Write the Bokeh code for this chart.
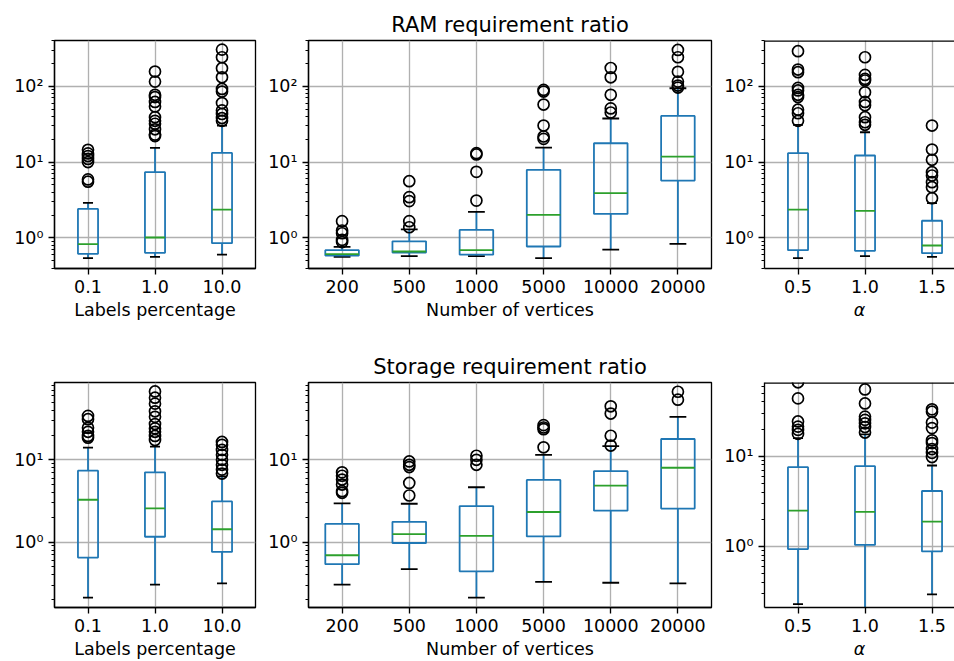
from bokeh.plotting import figure
from bokeh.layouts import column, row
from bokeh.models import Range1d, FixedTicker, CustomJSTickFormatter, Span
from bokeh.embed import file_html
from bokeh.resources import INLINE

FONT = "DejaVu Sans"

# ------------------------------------------------------------------ data
LABEL_PCT = ["0.1", "1.0", "10.0"]
VERTICES = ["200", "500", "1000", "5000", "10000", "20000"]
ALPHAS = ["0.5", "1.0", "1.5"]

# RAM requirement ratio -- by labels percentage
RAM_LP_LOW = [0.54, 0.56, 0.60]
RAM_LP_Q1 = [0.615, 0.634, 0.85]
RAM_LP_MED = [0.825, 1.01, 2.36]
RAM_LP_Q3 = [2.41, 7.35, 13.2]
RAM_LP_HIGH = [2.89, 15.4, 30.3]
RAM_LP_FLIERS = [[14.5, 13.0, 12.0, 11.0, 10.0, 5.9, 5.5],
                 [156, 115, 77, 72, 62, 54, 39, 35, 32, 27, 23, 22],
                 [304, 241, 173, 131, 92, 85, 60, 48, 43, 38, 35]]

# RAM requirement ratio -- by number of vertices
RAM_NV_LOW = [0.56, 0.573, 0.573, 0.54, 0.70, 0.83]
RAM_NV_Q1 = [0.585, 0.64, 0.60, 0.769, 2.07, 5.7]
RAM_NV_MED = [0.609, 0.66, 0.688, 2.01, 3.88, 11.8]
RAM_NV_Q3 = [0.688, 0.90, 1.27, 7.88, 17.7, 40.6]
RAM_NV_HIGH = [0.76, 1.29, 2.2, 15.5, 37.5, 94]
RAM_NV_FLIERS = [[1.66, 1.25, 1.15, 0.94, 0.88],
                 [5.59, 3.44, 3.05, 1.66, 1.38],
                 [13.1, 12.6, 7.42, 3.1],
                 [89.5, 85, 57.3, 30.3, 21.7, 20.2],
                 [174, 131, 77, 51, 45],
                 [301, 241, 155, 115, 102, 96]]

# RAM requirement ratio -- by alpha
RAM_AL_LOW = [0.54, 0.573, 0.56]
RAM_AL_Q1 = [0.688, 0.674, 0.628]
RAM_AL_MED = [2.36, 2.27, 0.792]
RAM_AL_Q3 = [13.1, 12.2, 1.68]
RAM_AL_HIGH = [31, 24.7, 2.87]
RAM_AL_FLIERS = [[290, 166, 153, 95, 88, 77, 72, 49, 44, 35],
                 [241, 141, 125, 119, 83, 62, 56, 39, 33.5, 31],
                 [30.3, 14.6, 10.7, 7.35, 6.64, 5.42, 4.66, 3.33]]

# Storage requirement ratio -- by labels percentage
STO_LP_LOW = [0.211, 0.303, 0.315]
STO_LP_Q1 = [0.648, 1.16, 0.758]
STO_LP_MED = [3.27, 2.57, 1.43]
STO_LP_Q3 = [7.37, 7.04, 3.12]
STO_LP_HIGH = [14.1, 14.5, 6.3]
STO_LP_FLIERS = [[34.2, 31.2, 24.5, 21.9, 19.5, 18.6],
                 [67.8, 56.9, 48.2, 38.9, 33.3, 27.2, 24.1, 21.9, 19.5, 17.4],
                 [16.5, 15.2, 13.2, 11.5, 10.0, 8.7, 7.6, 6.8]]

# Storage requirement ratio -- by number of vertices
STO_NV_LOW = [0.303, 0.469, 0.211, 0.327, 0.32, 0.315]
STO_NV_Q1 = [0.538, 0.973, 0.44, 1.17, 2.41, 2.55]
STO_NV_MED = [0.691, 1.25, 1.19, 2.32, 4.86, 8.01]
STO_NV_Q3 = [1.66, 1.76, 2.74, 5.69, 7.3, 17.9]
STO_NV_HIGH = [2.95, 2.92, 4.64, 11.5, 14.7, 33.3]
STO_NV_FLIERS = [[7.04, 6.4, 5.75, 5.0, 4.15, 3.97],
                 [9.55, 8.7, 8.16, 5.23, 3.68],
                 [11.2, 10.0, 8.7],
                 [26.4, 24.7, 23.6, 14.2],
                 [44.7, 36.5, 19.6, 14.9],
                 [67.2, 53.8]]

# Storage requirement ratio -- by alpha
STO_AL_LOW = [0.229, 0.19, 0.294]
STO_AL_Q1 = [0.935, 1.04, 0.881]
STO_AL_MED = [2.49, 2.42, 1.88]
STO_AL_Q3 = [7.57, 7.77, 4.12]
STO_AL_HIGH = [15.9, 17.5, 7.9]
STO_AL_FLIERS = [[66, 43.8, 24.3, 21.3, 19.6, 17.7],
                 [55, 38.5, 27.5, 25.3, 23.2, 21.1, 18.3],
                 [33.1, 31.2, 23.6, 20.5, 15, 14, 12, 10.9, 9.8]]

# ------------------------------------------------------------------ style
BOX_C = "#1f77b4"
MED_C = "#2ca02c"
GRID_C = "#b0b0b0"
LW = 1.8
SPINE_W = 1.33
TICK_FS = "17.5px"

SUP = {-1: "\u207b\u00b9", 0: "\u2070", 1: "\u00b9", 2: "\u00b2", 3: "\u00b3"}


def panel(cats, low, q1, med, q3, high, fliers, ylo, yhi, width, height,
          mb, x_end=None, xlabel="", title=None, clip_right=False,
          italic_label=False):
    n = len(cats)
    xs = list(range(1, n + 1))
    bw = min(0.15 * max(n - 1, 1.0), 0.5)
    if x_end is None:
        x_end = n + 0.5
    kw = dict(width=width, height=height,
              x_range=Range1d(0.5, x_end), y_range=Range1d(ylo, yhi),
              y_axis_type="log", output_backend="svg", toolbar_location=None,
              min_border_left=mb[0], min_border_right=mb[1],
              min_border_top=mb[2], min_border_bottom=mb[3],
              background_fill_color="white", border_fill_color="white")
    if title:
        kw["title"] = title
    p = figure(**kw)
    if title:
        p.title.text_font = FONT
        p.title.text_font_size = "21px"
        p.title.text_font_style = "normal"
        p.title.text_color = "black"
        p.title.align = "center"
        p.title.standoff = 8

    # ticks
    xt = FixedTicker(ticks=xs)
    majors = [10.0 ** e for e in range(-2, 4) if ylo <= 10.0 ** e <= yhi]
    minors = [m * 10.0 ** e for e in range(-2, 4) for m in range(2, 10)
              if ylo <= m * 10.0 ** e <= yhi]
    yt = FixedTicker(ticks=majors, minor_ticks=minors)
    p.xaxis.ticker = xt
    p.yaxis.ticker = yt
    p.xgrid.ticker = xt
    p.ygrid.ticker = yt
    p.xaxis.formatter = CustomJSTickFormatter(
        args=dict(labels=cats),
        code="return labels[Math.round(tick) - 1] || '';")
    p.yaxis.formatter = CustomJSTickFormatter(
        args=dict(sup={str(k): v for k, v in SUP.items()}),
        code="const e = Math.round(Math.log10(tick)); return '10' + sup[String(e)];")

    for ax in (p.xaxis[0], p.yaxis[0]):
        ax.axis_line_color = "black"
        ax.axis_line_width = SPINE_W
        ax.major_tick_line_color = "black"
        ax.major_tick_line_width = SPINE_W
        ax.major_tick_out = 6
        ax.major_tick_in = 0
        ax.minor_tick_line_color = "black"
        ax.minor_tick_line_width = 1.0
        ax.minor_tick_out = 3
        ax.minor_tick_in = 0
        ax.major_label_text_font = FONT
        ax.major_label_text_font_size = TICK_FS
        ax.major_label_text_color = "black"
        ax.major_label_standoff = 5
    p.xaxis.minor_tick_line_color = None
    p.xaxis.axis_label = xlabel
    p.xaxis.axis_label_text_font = FONT
    p.xaxis.axis_label_text_font_size = TICK_FS
    p.xaxis.axis_label_text_font_style = "italic" if italic_label else "normal"
    p.xaxis.axis_label_text_color = "black"
    p.xaxis.axis_label_standoff = 4

    for g in (p.xgrid[0], p.ygrid[0]):
        g.grid_line_color = GRID_C
        g.grid_line_width = 1.33

    if clip_right:
        p.outline_line_color = None
        p.add_layout(Span(location=yhi, dimension="width", line_color="black",
                          line_width=SPINE_W * 2))
    else:
        p.outline_line_color = "black"
        p.outline_line_width = SPINE_W
        p.outline_line_alpha = 1.0

    # whiskers
    p.segment(x0=xs, y0=q3, x1=xs, y1=high, line_color=BOX_C, line_width=LW)
    p.segment(x0=xs, y0=q1, x1=xs, y1=low, line_color=BOX_C, line_width=LW)
    # caps
    cw = bw / 4.0
    p.segment(x0=[x - cw for x in xs], y0=high, x1=[x + cw for x in xs], y1=high,
              line_color="black", line_width=LW)
    p.segment(x0=[x - cw for x in xs], y0=low, x1=[x + cw for x in xs], y1=low,
              line_color="black", line_width=LW)
    # boxes
    p.vbar(x=xs, width=bw, bottom=q1, top=q3, fill_color=None,
           line_color=BOX_C, line_width=LW)
    # medians
    p.segment(x0=[x - bw / 2 for x in xs], y0=med, x1=[x + bw / 2 for x in xs],
              y1=med, line_color=MED_C, line_width=LW)
    # fliers
    fx = [xs[i] for i, f in enumerate(fliers) for _ in f]
    fy = [v for f in fliers for v in f]
    p.scatter(x=fx, y=fy, marker="circle", size=11, fill_color=None,
              line_color="black", line_width=1.7)
    return p


# top row: frames y 40..268 ; bottom row: frames y 382..609
TOP_LO, TOP_HI = 0.394, 401.0
BOT_LO, BOT_HI = 0.160, 87.1
BR_LO, BR_HI = 0.2104, 65.7

H1, H2 = 345, 316
MB1 = (40, 77)
MB2 = (37, 52)

p1 = panel(LABEL_PCT, RAM_LP_LOW, RAM_LP_Q1, RAM_LP_MED, RAM_LP_Q3, RAM_LP_HIGH,
           RAM_LP_FLIERS, TOP_LO, TOP_HI, 260, H1, (54, 5) + MB1,
           xlabel="Labels percentage")
p2 = panel(VERTICES, RAM_NV_LOW, RAM_NV_Q1, RAM_NV_MED, RAM_NV_Q3, RAM_NV_HIGH,
           RAM_NV_FLIERS, TOP_LO, TOP_HI, 456, H1, (48, 5) + MB1,
           xlabel="Number of vertices", title="RAM requirement ratio")
p3 = panel(ALPHAS, RAM_AL_LOW, RAM_AL_Q1, RAM_AL_MED, RAM_AL_Q3, RAM_AL_HIGH,
           RAM_AL_FLIERS, TOP_LO, TOP_HI, 238, H1, (48, 0) + MB1,
           x_end=0.5 + 190 / 67.0, xlabel="\u03b1", clip_right=True,
           italic_label=True)

p4 = panel(LABEL_PCT, STO_LP_LOW, STO_LP_Q1, STO_LP_MED, STO_LP_Q3, STO_LP_HIGH,
           STO_LP_FLIERS, BOT_LO, BOT_HI, 260, H2, (54, 5) + MB2,
           xlabel="Labels percentage")
p5 = panel(VERTICES, STO_NV_LOW, STO_NV_Q1, STO_NV_MED, STO_NV_Q3, STO_NV_HIGH,
           STO_NV_FLIERS, BOT_LO, BOT_HI, 456, H2, (48, 5) + MB2,
           xlabel="Number of vertices", title="Storage requirement ratio")
p6 = panel(ALPHAS, STO_AL_LOW, STO_AL_Q1, STO_AL_MED, STO_AL_Q3, STO_AL_HIGH,
           STO_AL_FLIERS, BR_LO, BR_HI, 238, H2, (48, 0) + MB2,
           x_end=0.5 + 190 / 67.0, xlabel="\u03b1", clip_right=True,
           italic_label=True)

layout = column(row(p1, p2, p3), row(p4, p5, p6))

open("out.html", "w").write(file_html(layout, INLINE))
